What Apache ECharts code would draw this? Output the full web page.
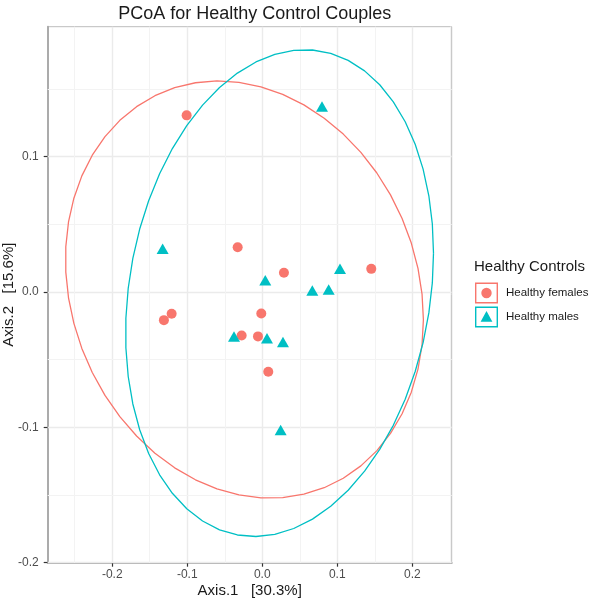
<!DOCTYPE html>
<html><head><meta charset="utf-8">
<script src="https://cdn.jsdelivr.net/npm/echarts@6/dist/echarts.min.js"></script>
<style>html,body{margin:0;padding:0;background:#fff}#c{width:593px;height:600px}</style>
</head><body><div id="c"></div>
<script>
// ---- data ----
const groupNames = ['Healthy females', 'Healthy males'];
const femalesX = [-0.1008, -0.0328, 0.0289, 0.1453, -0.1208, -0.1311, -0.0013, -0.0275, -0.0057, 0.0080];
const femalesY = [0.1305, 0.0331, 0.0142, 0.0171, -0.0161, -0.0208, -0.0159, -0.0321, -0.0328, -0.0589];
const malesX = [-0.1328, 0.0040, 0.1036, 0.0667, 0.0885, -0.0377, 0.0063, 0.0276, 0.0796, 0.0245];
const malesY = [0.0319, 0.0087, 0.0171, 0.0011, 0.0018, -0.0328, -0.0341, -0.0370, 0.1371, -0.1020];
const xTicks = [-0.2, -0.1, 0.0, 0.1, 0.2];
const yTicks = [-0.2, -0.1, 0.0, 0.1];
const xMinorGrid = [-0.25, -0.15, -0.05, 0.05, 0.15, 0.25];
const yMinorGrid = [-0.15, -0.05, 0.05, 0.15];
const xRange = [-0.286, 0.2525];
const yRange = [-0.2, 0.196];
const ellipseLevel = 0.95;
const ellipseSegments = 51;

const FONT = '"Liberation Sans", Arial, sans-serif';
const RED = '#F8766D', TEAL = '#00BFC4';

// normal-theory confidence ellipse (as ggplot2 stat_ellipse type = "norm")
function confEllipse(xs, ys, level, segments) {
  const n = xs.length;
  const mx = xs.reduce((a, b) => a + b, 0) / n;
  const my = ys.reduce((a, b) => a + b, 0) / n;
  let sxx = 0, syy = 0, sxy = 0;
  for (let i = 0; i < n; i++) {
    const dx = xs[i] - mx, dy = ys[i] - my;
    sxx += dx * dx; syy += dy * dy; sxy += dx * dy;
  }
  sxx /= (n - 1); syy /= (n - 1); sxy /= (n - 1);
  const dfd = n - 1;
  const q = (dfd / 2) * (Math.pow(1 - level, -2 / dfd) - 1); // qf(level, 2, dfd)
  const r = Math.sqrt(2 * q);
  const a = Math.sqrt(sxx), b = sxy / a, c = Math.sqrt(syy - b * b);
  const pts = [];
  for (let k = 0; k <= segments; k++) {
    const t = 2 * Math.PI * k / segments;
    const u = Math.cos(t), v = Math.sin(t);
    pts.push([mx + r * u * a, my + r * (u * b + v * c)]);
  }
  return pts;
}
const zip = (xs, ys) => xs.map((x, i) => [x, ys[i]]);

const gridLines = []
  .concat(xTicks.map(v => ({ xAxis: v, lineStyle: { color: '#EBEBEB', width: 1.4 } })))
  .concat(yTicks.map(v => ({ yAxis: v, lineStyle: { color: '#EBEBEB', width: 1.4 } })))
  .concat(xMinorGrid.map(v => ({ xAxis: v, lineStyle: { color: '#F3F3F3', width: 1 } })))
  .concat(yMinorGrid.map(v => ({ yAxis: v, lineStyle: { color: '#F3F3F3', width: 1 } })));

const boxRing = 'M0 0 H23 V21 H0 Z M1.4 1.4 V19.6 H21.6 V1.4 Z ';
const iconCircle = 'path://' + boxRing + 'M6.3 10.5 A5.2 5.2 0 1 0 16.7 10.5 A5.2 5.2 0 1 0 6.3 10.5 Z';
const iconTri = 'path://' + boxRing + 'M11.5 4.6 L17.4 15.2 L5.6 15.2 Z';

const chart = echarts.init(document.getElementById('c'), null, { renderer: 'canvas' });
chart.setOption({
  animation: false,
  textStyle: { fontFamily: FONT },
  title: [
    { text: 'PCoA for Healthy Control Couples', left: 249.7, top: 0, textAlign: 'center',
      textStyle: { fontSize: 18, fontWeight: 'normal', color: '#1a1a1a', fontFamily: FONT } },
    { text: 'Healthy Controls', left: 474, top: 259, padding: 0,
      textStyle: { fontSize: 15, fontWeight: 'normal', color: '#1a1a1a', fontFamily: FONT } }
  ],
  legend: {
    orient: 'vertical', left: 475, top: 282.5, padding: 0,
    itemWidth: 23, itemHeight: 21, itemGap: 3,
    textStyle: { fontSize: 11.5, color: '#1a1a1a', fontFamily: FONT, padding: [0, 0, 0, 3] },
    data: [
      { name: groupNames[0], icon: iconCircle, itemStyle: { color: RED } },
      { name: groupNames[1], icon: iconTri, itemStyle: { color: TEAL } }
    ]
  },
  grid: { left: 47.7, right: 141.3, top: 26.7, bottom: 37.3, show: true,
          borderColor: '#BDBDBD', borderWidth: 1, backgroundColor: '#fff',
          containLabel: false, outerBoundsMode: 'none' },
  xAxis: {
    type: 'value', min: xRange[0], max: xRange[1],
    axisLine: { show: true, onZero: false, lineStyle: { color: '#ABABAB', width: 2 } },
    axisTick: { show: true, customValues: xTicks, length: 4, lineStyle: { color: '#333', width: 1.2 } },
    axisLabel: { customValues: xTicks, formatter: v => v.toFixed(1), color: '#4D4D4D', fontSize: 12, margin: 6 },
    splitLine: { show: false },
    name: 'Axis.1   [30.3%]', nameLocation: 'middle', nameGap: 21, nameMoveOverlap: false,
    nameTextStyle: { fontSize: 15, color: '#1a1a1a' }
  },
  yAxis: {
    type: 'value', min: yRange[0], max: yRange[1],
    axisLine: { show: true, onZero: false, lineStyle: { color: '#ABABAB', width: 2 } },
    axisTick: { show: true, customValues: yTicks, length: 4, lineStyle: { color: '#333', width: 1.2 } },
    axisLabel: { customValues: yTicks, formatter: v => v.toFixed(1), color: '#4D4D4D', fontSize: 12, margin: 9 },
    splitLine: { show: false },
    name: 'Axis.2   [15.6%]', nameLocation: 'middle', nameGap: 31, nameMoveOverlap: false,
    nameTextStyle: { fontSize: 15, color: '#1a1a1a' }
  },
  series: [
    { name: 'grid', type: 'line', data: [], z: 1, silent: true,
      markLine: { silent: true, z: 1, symbol: ['none', 'none'], label: { show: false },
                  lineStyle: { type: 'solid' }, data: gridLines } },
    { name: groupNames[0] + ' ellipse', type: 'line', z: 3, silent: true, showSymbol: false,
      data: confEllipse(femalesX, femalesY, ellipseLevel, ellipseSegments),
      lineStyle: { color: RED, width: 1.3 }, itemStyle: { color: RED } },
    { name: groupNames[1] + ' ellipse', type: 'line', z: 3, silent: true, showSymbol: false,
      data: confEllipse(malesX, malesY, ellipseLevel, ellipseSegments),
      lineStyle: { color: TEAL, width: 1.3 }, itemStyle: { color: TEAL } },
    { name: groupNames[0], type: 'scatter', z: 4, symbol: 'circle', symbolSize: 10,
      data: zip(femalesX, femalesY), itemStyle: { color: RED, opacity: 1 } },
    { name: groupNames[1], type: 'scatter', z: 4, symbol: 'triangle', symbolSize: [12, 10.5],
      data: zip(malesX, malesY), itemStyle: { color: TEAL, opacity: 1 } }
  ]
});
</script></body></html>
